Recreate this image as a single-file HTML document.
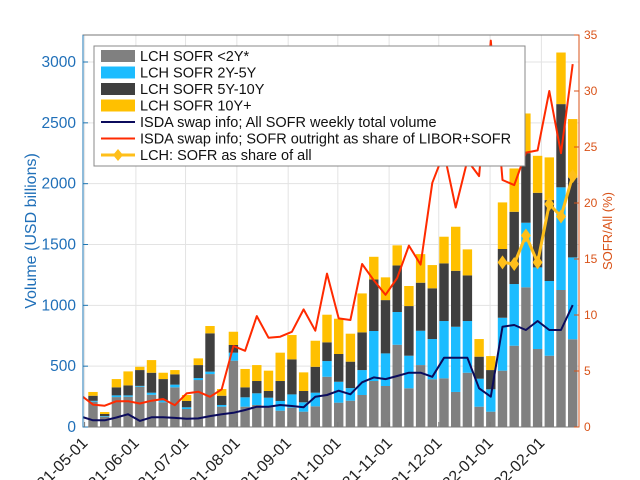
<!DOCTYPE html>
<html><head><meta charset="utf-8"><style>
html,body{margin:0;padding:0;background:#fff;width:640px;height:480px;overflow:hidden}
svg{display:block;font-family:"Liberation Sans",sans-serif}
</style></head><body>
<svg id="chart" width="640" height="480" viewBox="0 0 640 480" xmlns="http://www.w3.org/2000/svg" overflow="hidden"></svg>
<script>
const monthLabels=["2021-05-01","2021-06-01","2021-07-01","2021-08-01","2021-09-01","2021-10-01","2021-11-01","2021-12-01","2022-01-01","2022-02-01"];
const monthDays=[0,31,61,92,123,153,184,214,245,276];
const leftTicks=[0,500,1000,1500,2000,2500,3000];
const rightTicks=[0,5,10,15,20,25,30,35];
const lchShort=[208,85,246,249,331,265,203,326,148,386,435,167,545,167,181,167,134,159,126,170,413,200,216,263,378,337,676,318,509,392,400,288,446,167,126,463,668,1148,641,586,1126,721];
const lch2to5=[7,5,14,11,7,17,16,22,14,16,20,14,66,77,96,74,80,109,77,112,129,172,104,205,411,268,269,268,282,331,471,536,425,230,184,435,507,531,671,614,844,673];
const lch5to10=[42,17,66,82,130,164,175,85,52,107,315,76,63,82,101,55,164,288,93,213,154,228,217,310,424,438,383,408,395,417,474,460,375,181,158,565,594,572,613,665,684,656];
const lch10plus=[31,16,68,115,27,104,52,35,49,55,60,55,109,151,131,167,233,200,153,214,227,290,230,320,186,187,165,165,235,191,219,362,214,145,115,383,356,326,304,351,424,481];
const isdaVolume=[85,55,55,78,105,50,80,80,75,68,71,90,104,117,140,167,167,181,173,162,249,263,298,269,367,408,394,419,446,446,413,569,569,569,318,249,824,838,797,871,797,797,1002];
const isdaShare=[2.8,2.0,1.9,2.3,2.3,2.1,2.35,2.5,1.95,3.0,3.15,2.7,3.37,7.23,6.8,9.9,7.97,8.06,8.5,10.5,8.6,13.7,9.7,9.55,14.55,13.1,11.8,13.3,16.2,14.5,21.8,24.5,19.6,23.8,22.4,34.5,22.05,21.6,24.5,24.7,30.0,24.45,32.4];
const lchShare=[null,null,null,null,null,null,null,null,null,null,null,null,null,null,null,null,null,null,null,null,null,null,null,null,null,null,null,null,null,null,null,null,null,null,null,14.7,14.55,17.1,14.7,19.9,18.8,22.4];

const NS="http://www.w3.org/2000/svg";
const svg=document.getElementById('chart');
const L=83,R=579,T=35,B=427;
const yL=v=>B-(B-T)*v/3222;
const yR=v=>B-(B-T)*v/35;
const xDay=d=>84.6+1.655*d;
const xBar=k=>93+11.7*k;
const xLine=i=>93+11.7*(i-1);
function el(tag,attrs,parent){const e=document.createElementNS(NS,tag);for(const k in attrs)e.setAttribute(k,attrs[k]);(parent||svg).appendChild(e);return e;}

const defs=el('defs',{});
const cp=el('clipPath',{id:'plotclip'},defs);
el('rect',{x:L,y:T,width:R-L,height:B-T},cp);

const grid=el('g',{});


monthDays.forEach(d=>{el('line',{x1:xDay(d),x2:xDay(d),y1:T,y2:B,stroke:'#e3e3e3','stroke-width':1},grid);});
leftTicks.forEach(v=>{el('line',{x1:L,x2:R,y1:yL(v),y2:yL(v),stroke:'#e3e3e3','stroke-width':1},grid);});

const bars=el('g',{});


const series=[[lchShort,'#808080'],[lch2to5,'#1cbcff'],[lch5to10,'#3f3f3f'],[lch10plus,'#ffc000']];
for(let k=0;k<lchShort.length;k++){
  let base=0;
  series.forEach(([arr,c])=>{
    const v=arr[k];const y0=yL(base),y1=yL(base+v);
    const r=el('rect',{x:xBar(k)-4.7,y:y1,width:9.4,height:Math.max(0,y0-y1),fill:c},bars);
    
    
    base+=v;
  });
}

function pathFrom(arr,xf,yf){let d='',pen=false;arr.forEach((v,i)=>{if(v==null){pen=false;return;}d+=(pen?'L':'M')+xf(i).toFixed(1)+','+yf(v).toFixed(1);pen=true;});return d;}
const lines=el('g',{'clip-path':'url(#plotclip)'});
const navy=el('path',{d:pathFrom(isdaVolume,xLine,yL),fill:'none',stroke:'#0b0b5c','stroke-width':2,'stroke-linejoin':'round'},lines);


const red=el('path',{d:pathFrom(isdaShare,xLine,yR),fill:'none',stroke:'#ff2a00','stroke-width':2,'stroke-linejoin':'round'},lines);


const yel=el('path',{d:pathFrom(lchShare,xBar,yR),fill:'none',stroke:'#ffbf1a','stroke-width':3,'stroke-linejoin':'round'},lines);


lchShare.forEach((v,k)=>{if(v==null)return;const x=xBar(k),y=yR(v);
  const m=el('path',{d:`M${x},${y-7}L${x+5},${y}L${x},${y+7}L${x-5},${y}Z`,fill:'#ffbf1a'},lines);
  
  
});

el('rect',{x:L,y:T,width:R-L,height:B-T,fill:'none',stroke:'#777','stroke-width':1});
el('line',{x1:L,x2:L,y1:T,y2:B,stroke:'#1f77b4','stroke-width':1});
el('line',{x1:R,x2:R,y1:T,y2:B,stroke:'#d95319','stroke-width':1});
leftTicks.forEach(v=>{
  el('line',{x1:L,x2:L+5,y1:yL(v),y2:yL(v),stroke:'#1f77b4'});
  const t=el('text',{x:L-7,y:yL(v)+5,'text-anchor':'end','font-size':15.5,fill:'#1f6fb8'});
  t.textContent=v;
  
  
});
rightTicks.forEach(v=>{
  el('line',{x1:R-5,x2:R,y1:yR(v),y2:yR(v),stroke:'#d95319'});
  const t=el('text',{x:R+5,y:yR(v)+4,'font-size':12,fill:'#d95319'});
  t.textContent=v;
  
  
});
monthDays.forEach((d,i)=>{
  const x=xDay(d);
  el('line',{x1:x,x2:x,y1:B,y2:B-5,stroke:'#777'});
  const t=el('text',{x:x+4,y:B+17,'text-anchor':'end','font-size':16,fill:'#222',transform:`rotate(-45 ${x+4} ${B+17})`});
  t.textContent=monthLabels[i];
  
  
});
const yt=el('text',{x:36,y:231,'text-anchor':'middle','font-size':16,fill:'#1f6fb8',transform:'rotate(-90 36 231)'});
yt.textContent='Volume (USD billions)';


const yt2=el('text',{x:612,y:231,'text-anchor':'middle','font-size':13,fill:'#d95319',transform:'rotate(-90 612 231)'});
yt2.textContent='SOFR/All (%)';



const lg=el('g',{});


el('rect',{x:94,y:46,width:431,height:120,fill:'#fff',stroke:'#888','stroke-width':1},lg);
const legendNames=['LCH SOFR <2Y*','LCH SOFR 2Y-5Y','LCH SOFR 5Y-10Y','LCH SOFR 10Y+','ISDA swap info; All SOFR weekly total volume','ISDA swap info; SOFR outright as share of LIBOR+SOFR','LCH: SOFR as share of all'];
const legendColors=['#808080','#1cbcff','#3f3f3f','#ffc000','#0b0b5c','#ff2a00','#ffbf1a'];
legendNames.forEach((n,i)=>{
  const cy=56+16.5*i;
  const g=el('g',{},lg);
  
  
  if(i<4) el('rect',{x:101,y:cy-6,width:34,height:12,fill:legendColors[i]},g);
  else{ el('line',{x1:101,x2:135,y1:cy,y2:cy,stroke:legendColors[i],'stroke-width':i==6?3:2},g);
    if(i==6) el('path',{d:`M118,${cy-6}L123,${cy}L118,${cy+6}L113,${cy}Z`,fill:legendColors[i]},g);}
  const t=el('text',{x:140,y:cy+5,'font-size':14.5,fill:'#111'},g);
  t.textContent=n;
});
</script>
</body></html>
